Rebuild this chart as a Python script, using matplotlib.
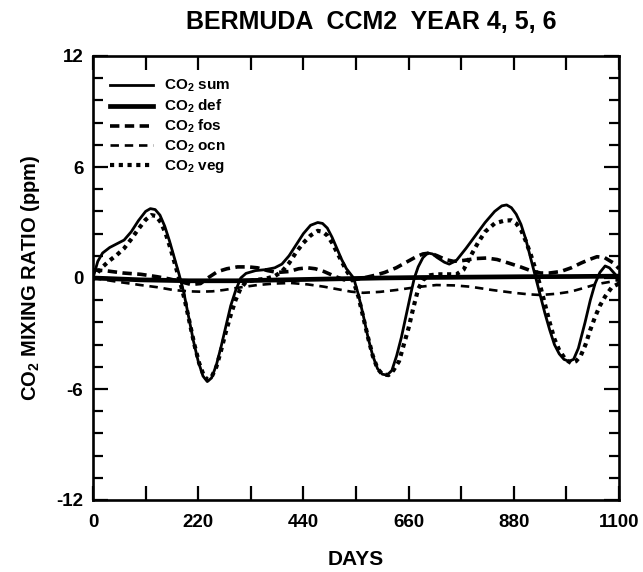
import matplotlib
matplotlib.use("Agg")
import matplotlib.pyplot as plt
from matplotlib.ticker import MultipleLocator

# values (days, ppm)
sum_days = [0, 10, 20, 35, 50, 65, 80, 95, 110, 120, 130, 140, 150, 160, 170, 180,
            190, 200, 210, 220, 230, 239, 248, 258, 268, 278, 288, 298, 309, 320, 340,
            360, 380, 395, 410, 425, 440, 455, 470, 480, 490, 500, 510, 520, 530, 545,
            555, 565, 575, 585, 595, 605, 615, 625, 635, 645, 655, 665, 672, 680, 690,
            700, 710, 720, 735, 745, 760, 780, 800, 820, 840, 855, 865, 875, 885, 895,
            905, 915, 925, 935, 945, 955, 965, 975, 985, 995, 1005, 1015, 1029, 1040,
            1050, 1060, 1071, 1080, 1092, 1100]
sum_vals = [0.0, 0.9, 1.35, 1.65, 1.85, 2.05, 2.5, 3.1, 3.6, 3.75, 3.7, 3.4, 2.8, 2.0, 1.1, 0.2,
            -0.8, -2.1, -3.4, -4.5, -5.3, -5.6, -5.4, -4.7, -3.7, -2.6, -1.5, -0.7, 0.0, 0.25, 0.4,
            0.45, 0.55, 0.75, 1.2, 1.8, 2.4, 2.85, 3.0, 2.95, 2.7, 2.2, 1.6, 1.0, 0.5, 0.0,
            -0.9, -2.0, -3.2, -4.2, -4.9, -5.2, -5.25, -5.0, -4.2, -3.2, -2.0, -0.8, 0.0, 0.6, 1.1,
            1.35, 1.3, 1.1, 0.85, 0.75, 0.95, 1.6, 2.3, 3.0, 3.6, 3.9, 3.95, 3.8, 3.45, 2.9,
            2.1, 1.1, 0.1, -0.9, -1.9, -2.8, -3.6, -4.1, -4.4, -4.5, -4.4, -3.8, -2.4, -1.2,
            -0.3, 0.3, 0.65, 0.55, 0.2, -0.2]

def_days = [0, 100, 200, 300, 400, 500, 600, 700, 800, 900, 1000, 1100]
def_vals = [0.0, -0.1, -0.15, -0.15, -0.1, -0.05, 0.0, 0.03, 0.05, 0.07, 0.08, 0.1]

fos_days = [0, 30, 63, 100, 134, 160, 183, 205, 225, 240, 260, 280, 302, 325, 344, 365,
            386, 410, 430, 449, 465, 483, 505, 525, 545, 565, 590, 610, 634, 655, 676,
            690, 705, 720, 737, 754, 775, 800, 823, 845, 870, 894, 915, 936, 955, 978,
            1000, 1020, 1038, 1054, 1070, 1089, 1100]
fos_vals = [0.45, 0.38, 0.27, 0.2, 0.07, -0.05, -0.2, -0.35, -0.3, 0.0, 0.34, 0.5, 0.6, 0.6, 0.55, 0.4,
            0.3, 0.35, 0.5, 0.55, 0.5, 0.35, 0.1, -0.1, -0.1, 0.0, 0.15, 0.3, 0.55, 0.85, 1.15,
            1.3, 1.35, 1.2, 1.0, 0.9, 0.95, 1.05, 1.08, 1.0, 0.8, 0.6, 0.4, 0.27, 0.27, 0.35,
            0.55, 0.8, 1.0, 1.15, 1.1, 0.8, 0.5]

ocn_days = [0, 50, 99, 135, 168, 200, 225, 250, 273, 310, 344, 380, 414, 450, 483, 510,
            540, 565, 600, 634, 675, 718, 755, 789, 835, 880, 910, 936, 970, 999, 1025,
            1047, 1065, 1083, 1100]
ocn_vals = [0.0, -0.2, -0.38, -0.5, -0.65, -0.72, -0.74, -0.72, -0.65, -0.5, -0.38, -0.3, -0.27, -0.35, -0.47, -0.6,
            -0.74, -0.8, -0.75, -0.65, -0.5, -0.38, -0.4, -0.47, -0.65, -0.8, -0.88, -0.92, -0.85, -0.74, -0.55,
            -0.38, -0.28, -0.2, -0.1]

veg_days = [0, 10, 20, 35, 50, 65, 80, 95, 110, 122, 132, 142, 152, 162, 172, 182,
            192, 202, 212, 222, 232, 240, 248, 258, 268, 278, 288, 298, 308, 320, 340,
            360, 380, 395, 410, 425, 440, 455, 470, 480, 490, 500, 510, 520, 530, 545,
            555, 565, 575, 585, 595, 605, 618, 628, 640, 650, 660, 670, 680, 690, 705,
            720, 740, 760, 775, 790, 805, 820, 840, 860, 875, 885, 895, 905, 915, 925,
            935, 945, 955, 965, 975, 988, 1000, 1010, 1020, 1030, 1040, 1050, 1060, 1071,
            1085, 1100]
veg_vals = [-0.1, 0.3, 0.6, 0.95, 1.25, 1.6, 2.1, 2.65, 3.15, 3.4, 3.35, 3.0, 2.4, 1.6, 0.7, -0.2,
            -1.2, -2.4, -3.6, -4.6, -5.3, -5.5, -5.35, -4.8, -3.9, -2.9, -2.0, -1.2, -0.6, -0.2, -0.1,
            -0.05, 0.1, 0.35, 0.8, 1.4, 1.9, 2.3, 2.55, 2.5, 2.3, 1.9, 1.4, 0.9, 0.4, -0.2,
            -1.0, -2.1, -3.2, -4.2, -4.9, -5.2, -5.25, -5.0, -4.5, -3.6, -2.7, -1.6, -0.6, -0.1, 0.15,
            0.2, 0.2, 0.2, 0.45, 1.2, 1.9, 2.5, 2.95, 3.1, 3.12, 2.95, 2.6, 2.0, 1.3, 0.5,
            -0.4, -1.4, -2.4, -3.3, -3.9, -4.4, -4.6, -4.5, -4.2, -3.6, -2.8, -2.1, -1.5, -1.0,
            -0.5, -0.3]

plt.rcParams["font.family"] = ["Liberation Sans", "DejaVu Sans"]
plt.rcParams["font.weight"] = "bold"
plt.rcParams["axes.labelweight"] = "bold"
plt.rcParams["mathtext.default"] = "regular"
plt.rcParams["axes.unicode_minus"] = False

fig = plt.figure(figsize=(6.43, 5.72), dpi=100)
ax = fig.add_axes([93 / 643, 1 - 500 / 572, (619 - 93) / 643, (500 - 56) / 572])

ax.plot(sum_days, sum_vals, color="black", lw=2.0, label="CO$_2$ sum")
ax.plot(def_days, def_vals, color="black", lw=3.4, label="CO$_2$ def")
ax.plot(fos_days, fos_vals, color="black", lw=2.6, dashes=(2.6, 1.5), label="CO$_2$ fos")
ax.plot(ocn_days, ocn_vals, color="black", lw=1.9, dashes=(3.2, 2.2), label="CO$_2$ ocn")
ax.plot(veg_days, veg_vals, color="black", lw=3.0, dashes=(1, 1.1), label="CO$_2$ veg")

ax.set_xlim(0, 1100)
ax.set_ylim(-12, 12)
ax.xaxis.set_major_locator(MultipleLocator(220))
ax.xaxis.set_minor_locator(MultipleLocator(110))
ax.yaxis.set_major_locator(MultipleLocator(6))
ax.yaxis.set_minor_locator(MultipleLocator(1.2))
ax.tick_params(which="both", direction="in", top=True, right=True, width=1.6,
               labelsize=13.5, colors="black")
ax.tick_params(axis="x", which="both", length=10, pad=10)
ax.tick_params(axis="y", which="major", length=11, pad=7)
ax.tick_params(axis="y", which="minor", length=7)
for s in ax.spines.values():
    s.set_linewidth(1.9)

ax.set_xlabel("DAYS", fontsize=15, labelpad=14)
ax.set_ylabel("CO$_2$ MIXING RATIO (ppm)", fontsize=14.5, labelpad=10)
fig.text(371 / 643, 1 - 22 / 572, "BERMUDA  CCM2  YEAR 4, 5, 6", fontsize=18,
         ha="center", va="center")

ax.legend(loc="upper left", bbox_to_anchor=(110 / 643, 1 - 78 / 572),
          bbox_transform=fig.transFigure, frameon=False, fontsize=11,
          borderpad=0, borderaxespad=0, labelspacing=0.2, handlelength=2.8,
          handleheight=0.5, handletextpad=0.75)

plt.savefig("out.png", dpi=100)
